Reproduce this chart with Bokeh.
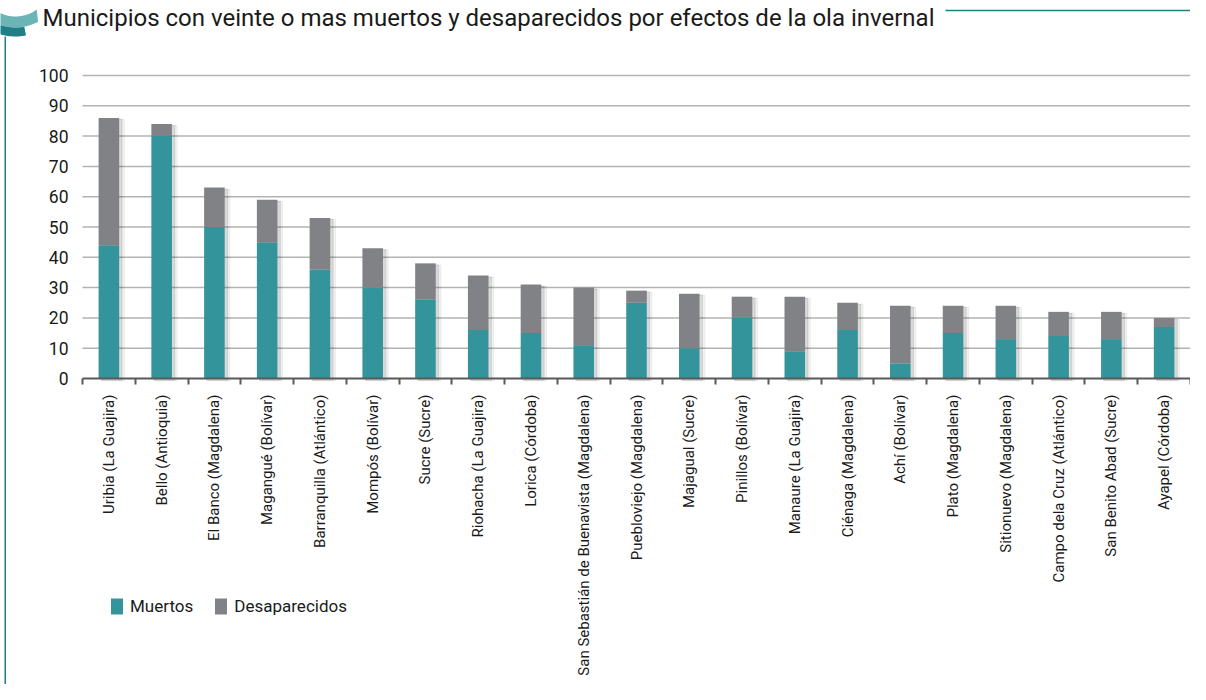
import numpy as np
from math import pi
from bokeh.plotting import figure
from bokeh.models import (ColumnDataSource, Range1d, FixedTicker, Legend, LegendItem,
                          Label, PolyAnnotation)
from bokeh.transform import dodge
from bokeh.embed import file_html
from bokeh.resources import INLINE

# ---------------- data ----------------
municipios = [
    "Uribia (La Guajira)", "Bello (Antioquia)", "El Banco (Magdalena)", "Magangué (Bolívar)",
    "Barranquilla (Atlántico)", "Mompós (Bolívar)", "Sucre (Sucre)", "Riohacha (La Guajira)",
    "Lorica (Córdoba)", "San Sebastián de Buenavista (Magdalena)", "Puebloviejo (Magdalena)",
    "Majagual (Sucre)", "Pinillos (Bolívar)", "Manaure (La Guajira)", "Ciénaga (Magdalena)",
    "Achí (Bolívar)", "Plato (Magdalena)", "Sitionuevo (Magdalena)", "Campo dela Cruz (Atlántico)",
    "San Benito Abad (Sucre)", "Ayapel (Córdoba)",
]
muertos = [44, 80, 50, 45, 36, 30, 26, 16, 15, 11, 25, 10, 20, 9, 16, 5, 15, 13, 14, 13, 17]
desaparecidos = [42, 4, 13, 14, 17, 13, 12, 18, 16, 19, 4, 18, 7, 18, 9, 19, 9, 11, 8, 9, 3]
y_ticks = [0, 10, 20, 30, 40, 50, 60, 70, 80, 90, 100]
series_names = ["Muertos", "Desaparecidos"]
title_text = "Municipios con veinte o mas muertos y desaparecidos por efectos de la ola invernal"

TEAL = "#33959b"
GRAY = "#808285"
DARK_TEAL = "#1f7f86"
LIGHT_TEAL = "#6db4b7"
FONT = "Roboto"

# ---------------- geometry (canvas pixels) ----------------
W, H = 1190, 684
PLOT_L, PLOT_R = 82, 1190      # x = 0 .. n
PLOT_T, PLOT_B = 75, 378       # y = 100 .. 0

n = len(municipios)
ux = (PLOT_R - PLOT_L) / n
uy = (PLOT_B - PLOT_T) / 100.0
x_range = Range1d(-PLOT_L / ux, n + (W - PLOT_R) / ux)
y_range = Range1d(-(H - PLOT_B) / uy, 100 + PLOT_T / uy)

xs = [i + 0.5 for i in range(n)]
total = [m + d for m, d in zip(muertos, desaparecidos)]
src = ColumnDataSource(dict(x=xs, muertos=muertos, desaparecidos=desaparecidos,
                            total=total, shadow_top=[t - 0.5 for t in total]))

p = figure(width=W, height=H, output_backend="svg", toolbar_location=None,
           x_range=x_range, y_range=y_range,
           min_border=0, min_border_left=0, min_border_right=0,
           min_border_top=0, min_border_bottom=0)
p.outline_line_color = None
p.background_fill_color = "white"
p.border_fill_color = "white"
p.grid.visible = False

# gridlines (behind bars)
grid_y = y_ticks[1:]
p.segment(x0=[0] * len(grid_y), x1=[n] * len(grid_y), y0=grid_y, y1=grid_y,
          line_color="#b3b3b3", line_width=1.5)

# soft shadows
p.vbar(x=dodge("x", 0.085, range=p.x_range), top="shadow_top", bottom=-0.8, width=0.42,
       source=src, color="#000000", alpha=0.05)
p.vbar(x=dodge("x", 0.05, range=p.x_range), top="shadow_top", bottom=-0.6, width=0.4,
       source=src, color="#000000", alpha=0.10)

rs = p.vbar_stack(["muertos", "desaparecidos"], x="x", width=0.39, source=src,
                  color=[TEAL, GRAY], line_color=None)

# x axis fixed at y = 0
xa = p.xaxis[0]
xa.fixed_location = 0
xa.bounds = (0, n)
xa.ticker = FixedTicker(ticks=xs, minor_ticks=list(range(n + 1)))
xa.major_label_overrides = {x: name for x, name in zip(xs, municipios)}
xa.major_label_orientation = pi / 2
xa.major_tick_line_color = None
xa.major_tick_out = 0
xa.major_tick_in = 0
xa.minor_tick_line_color = "#595959"
xa.minor_tick_line_width = 2
xa.minor_tick_out = 6
xa.minor_tick_in = 0
xa.axis_line_color = "#595959"
xa.axis_line_width = 2
xa.major_label_standoff = 10
xa.major_label_text_font = FONT
xa.major_label_text_font_size = "15px"
xa.major_label_text_color = "#1a1a1a"

# y axis fixed at x = 0
ya = p.yaxis[0]
ya.fixed_location = 0
ya.bounds = (0, 100)
ya.ticker = FixedTicker(ticks=y_ticks)
ya.axis_line_color = None
ya.major_tick_line_color = None
ya.minor_tick_line_color = None
ya.major_tick_out = 0
ya.major_tick_in = 0
ya.major_label_standoff = 14
ya.major_label_text_font = FONT
ya.major_label_text_font_size = "17.5px"
ya.major_label_text_color = "#1a1a1a"

# picture coords -> screen coords (relative to canvas bottom-left)
def sx(X):
    return [x for x in X]

def sy(Y):
    return [H - y for y in Y]

# legend
legend = Legend(items=[LegendItem(label=series_names[0], renderers=[rs[0]]),
                       LegendItem(label=series_names[1], renderers=[rs[1]])],
                location=(sx([109])[0], sy([616])[0]), orientation="horizontal",
                glyph_width=15, glyph_height=20, label_standoff=6, spacing=20,
                padding=0, margin=0, border_line_color=None, background_fill_alpha=0,
                label_text_font=FONT, label_text_font_size="17px", label_text_color="#1a1a1a")
p.add_layout(legend)

# title
p.add_layout(Label(x=sx([42])[0], y=sy([17])[0], x_units="screen", y_units="screen",
                   text=title_text, text_font=FONT, text_font_size="24px",
                   text_baseline="alphabetic", text_color="#1a1a1a"))

# title rule
p.add_layout(PolyAnnotation(xs=sx([945, 1195, 1195, 945]), ys=sy([9.3, 9.3, 10.7, 10.7]),
                            xs_units="screen", ys_units="screen",
                            fill_color=DARK_TEAL, fill_alpha=1, line_color=None))
# left vertical rule
p.add_layout(PolyAnnotation(xs=sx([4, 5.5, 5.5, 4]), ys=sy([36, 36, 690, 690]),
                            xs_units="screen", ys_units="screen",
                            fill_color=DARK_TEAL, fill_alpha=1, line_color=None))

# crescent decoration (top-left)
cx, cy = 15, -20
ang = np.linspace(0.34 * pi, 0.75 * pi, 40)
ox = list(cx + 47 * np.cos(ang)); oy = list(cy + 47 * np.sin(ang))
ang_in = np.linspace(0.30 * pi, 0.75 * pi, 40)[::-1]
ix = list(cx + 36 * np.cos(ang_in)); iy = list(cy + 36 * np.sin(ang_in))
p.add_layout(PolyAnnotation(xs=sx(ox + ix), ys=sy(oy + iy),
                            xs_units="screen", ys_units="screen",
                            fill_color=LIGHT_TEAL, fill_alpha=1, line_color=None))
ang2 = np.linspace(0.44 * pi, 0.75 * pi, 30)
ox2 = list(cx + 56 * np.cos(ang2)); oy2 = list(cy + 56 * np.sin(ang2))
ix2 = list(cx + 47 * np.cos(ang2[::-1])); iy2 = list(cy + 47 * np.sin(ang2[::-1]))
p.add_layout(PolyAnnotation(xs=sx(ox2 + ix2), ys=sy(oy2 + iy2),
                            xs_units="screen", ys_units="screen",
                            fill_color=DARK_TEAL, fill_alpha=1, line_color=None))

open("out.html", "w").write(file_html(p, INLINE))
